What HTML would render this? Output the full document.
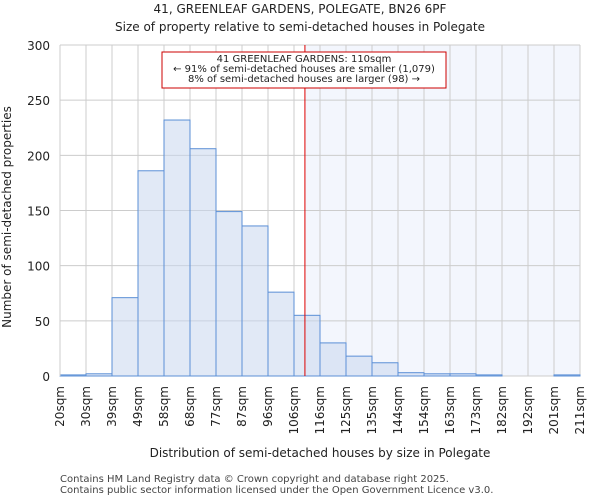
<!DOCTYPE html>
<html><head><meta charset="utf-8"><style>
body{margin:0;background:#fff;font-family:"DejaVu Sans","Liberation Sans",sans-serif;}
</style></head><body>
<svg width="600" height="500" xmlns="http://www.w3.org/2000/svg" font-family="DejaVu Sans, Liberation Sans, sans-serif" id="chart">
<text x="300" y="13" text-anchor="middle" font-size="12" fill="#222">41, GREENLEAF GARDENS, POLEGATE, BN26 6PF</text>
<text x="300" y="31" text-anchor="middle" font-size="12" fill="#222">Size of property relative to semi-detached houses in Polegate</text>
<g id="plot"></g>
<text x="320" y="457" text-anchor="middle" font-size="12" fill="#222">Distribution of semi-detached houses by size in Polegate</text>
<text transform="translate(11,217) rotate(-90)" text-anchor="middle" font-size="12" fill="#222">Number of semi-detached properties</text>
<text x="60" y="482" font-size="10" fill="#444">Contains HM Land Registry data © Crown copyright and database right 2025.</text>
<text x="60" y="493" font-size="10" fill="#444">Contains public sector information licensed under the Open Government Licence v3.0.</text>
</svg>
<script>
const categories=["20sqm","30sqm","39sqm","49sqm","58sqm","68sqm","77sqm","87sqm","96sqm","106sqm","116sqm","125sqm","135sqm","144sqm","154sqm","163sqm","173sqm","182sqm","192sqm","201sqm","211sqm"];
const counts=[1,2,71,186,232,206,149,136,76,55,30,18,12,3,2,2,1,0,0,1];
const yTicks=[0,50,100,150,200,250,300];
const markerBin=9.42;
const NS="http://www.w3.org/2000/svg";
const g=document.getElementById("plot");
const L=60,R=580,T=45,B=376,yMax=300;
const bw=(R-L)/counts.length;
const xs=i=>L+i*bw;
const ys=v=>B-(v/yMax)*(B-T);
function mk(t,a){const e=document.createElementNS(NS,t);for(const k in a)e.setAttribute(k,a[k]);g.appendChild(e);return e;}
let e;
e=mk("rect",{x:xs(markerBin),y:T,width:R-xs(markerBin),height:B-T,fill:"#f3f6fd"});


yTicks.forEach(v=>{
 e=mk("line",{x1:L,x2:R,y1:ys(v),y2:ys(v),stroke:"#ccc","stroke-width":1});
 
 
 e=mk("text",{x:L-10,y:ys(v)+5,"text-anchor":"end","font-size":"12",fill:"#222"});
 e.textContent=v;
 
 
});
categories.forEach((c,i)=>{
 e=mk("line",{x1:xs(i),x2:xs(i),y1:T,y2:B,stroke:"#ccc","stroke-width":1});
 
 
 e=mk("text",{transform:`translate(${xs(i)+4},${B+10}) rotate(-90)`,"text-anchor":"end","font-size":"12",fill:"#222"});
 e.textContent=c;
 
 
});
counts.forEach((v,i)=>{
 e=mk("rect",{x:xs(i),y:ys(v),width:bw,height:B-ys(v),fill:"rgba(200,215,238,0.55)",stroke:"#5b8fd6","stroke-width":1});
 
 
});
e=mk("line",{x1:xs(markerBin),x2:xs(markerBin),y1:T,y2:B,stroke:"#d00","stroke-width":1});


e=mk("rect",{x:162,y:52,width:284,height:36,fill:"#fff",stroke:"#c00","stroke-width":1});


["41 GREENLEAF GARDENS: 110sqm","← 91% of semi-detached houses are smaller (1,079)","8% of semi-detached houses are larger (98) →"].forEach((s,k)=>{
 e=mk("text",{x:304,y:62+k*10,"text-anchor":"middle","font-size":"10",fill:"#222"});
 e.textContent=s;
 
 
});
e=mk("line",{x1:L,x2:L,y1:T,y2:B,stroke:"#ccc"});


</script>
</body></html>
